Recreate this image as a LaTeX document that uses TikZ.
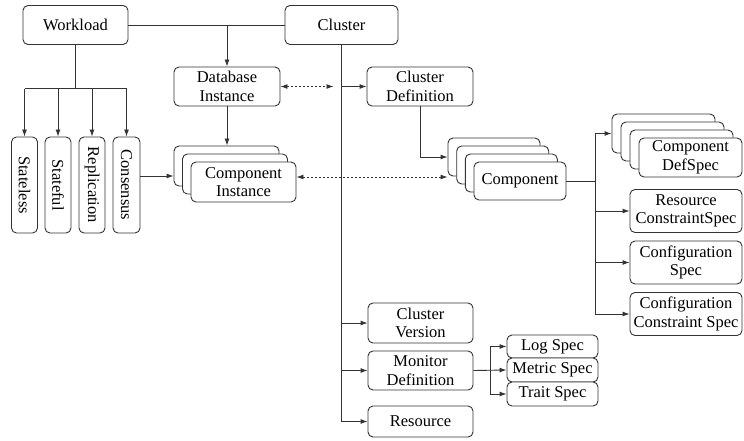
\documentclass[tikz,border=0pt]{standalone}
\usepackage{fontspec}
\setmainfont{Liberation Serif}
\usetikzlibrary{arrows.meta,calc}
\begin{document}
\begin{tikzpicture}[x=1pt,y=-1pt,
  line width=0.9pt,
  box/.style={draw=black!80, fill=white, rounded corners=5pt, inner sep=0pt, align=center,
    font=\fontsize{16.5}{18.5}\selectfont},
  vlab/.style={rotate=-90, inner sep=0pt, font=\fontsize{16.5}{18.5}\selectfont},
  link/.style={draw=black!80},
  arr/.style={draw=black!80, -{Latex[length=7pt,width=5pt]}},
  darr/.style={draw=black!80, dash pattern=on 2pt off 2pt, {Latex[length=7pt,width=5pt]}-{Latex[length=7pt,width=5pt]}}]
\useasboundingbox (0,0) rectangle (744,441);

% top
\node[box, minimum width=105, minimum height=39] (wl) at (75.5,25) {Workload};
\node[box, minimum width=113, minimum height=39] (cl) at (341.5,25) {Cluster};
\node[box, minimum width=106, minimum height=39] (dbi) at (227,86.5) {Database\\Instance};
\node[box, minimum width=106, minimum height=39] (cd) at (420,86.5) {Cluster\\Definition};

% workload types
\node[box, minimum width=26, minimum height=96] (sl) at (24.5,185) {};
\node[box, minimum width=26, minimum height=96] (sf) at (58,185) {};
\node[box, minimum width=26, minimum height=96] (rp) at (92,185) {};
\node[box, minimum width=27, minimum height=96] (cs) at (126.5,185) {};
\node[vlab] at (sl.center) {Stateless};
\node[vlab] at (sf.center) {Stateful};
\node[vlab] at (rp.center) {Replication};
\node[vlab] at (cs.center) {Consensus};

% component instance stack
\node[box, minimum width=105, minimum height=40] (ci1) at (226.5,166) {};
\node[box, minimum width=105, minimum height=40] (ci2) at (235,174) {};
\node[box, minimum width=105, minimum height=40] (ci3) at (243.5,182) {Component\\Instance};

% component stack
\node[box, minimum width=92, minimum height=38] (cp1) at (494,157) {};
\node[box, minimum width=92, minimum height=38] (cp2) at (502.7,165) {};
\node[box, minimum width=92, minimum height=38] (cp3) at (511.3,173) {};
\node[box, minimum width=92, minimum height=38] (cp4) at (520,181) {Component};

% component def spec stack
\node[box, minimum width=103, minimum height=39] (ds1) at (663.5,133.5) {};
\node[box, minimum width=103, minimum height=39] (ds2) at (672.5,141.5) {};
\node[box, minimum width=103, minimum height=39] (ds3) at (681.5,149.5) {};
\node[box, minimum width=103, minimum height=39] (ds4) at (690.5,157.5) {Component\\DefSpec};

\node[box, minimum width=112, minimum height=43] (rc) at (686,211) {Resource\\ConstraintSpec};
\node[box, minimum width=112, minimum height=43] (cfs) at (686,262.5) {Configuration\\Spec};
\node[box, minimum width=112, minimum height=43] (ccs) at (686,314) {Configuration\\Constraint Spec};

% lower cluster items
\node[box, minimum width=105, minimum height=40] (cv) at (420.5,323) {Cluster\\Version};
\node[box, minimum width=105, minimum height=39] (md) at (420.5,370.5) {Monitor\\Definition};
\node[box, minimum width=105, minimum height=31] (res) at (420.5,421.5) {Resource};

\node[box, minimum width=91, minimum height=23] (log) at (552.5,346.5) {Log Spec};
\node[box, minimum width=91, minimum height=24] (met) at (552.5,370) {Metric Spec};
\node[box, minimum width=91, minimum height=24] (trt) at (552.5,394) {Trait Spec};

% connectors: top
\draw[link] (wl.east) -- (cl.west);
\draw[arr] (wl.east -| dbi.north) -- (dbi.north);
\draw[arr] (dbi.south) -- (dbi.south |- ci1.north);

% workload branch
\coordinate (wb) at ($(wl.south)+(0,44)$);
\draw[link] (wl.south) -- (wb);
\draw[link] (sl.north |- wb) -- (cs.north |- wb);
\draw[arr] (sl.north |- wb) -- (sl.north);
\draw[arr] (sf.north |- wb) -- (sf.north);
\draw[arr] (rp.north |- wb) -- (rp.north);
\draw[arr] (cs.north |- wb) -- (cs.north);
\coordinate (csy) at ($(cs.east)+(0,-9)$);
\draw[arr] (csy) -- (csy -| ci1.west);

% cluster trunk
\draw[link] (cl.south) -- (cl.south |- res.west);
\draw[arr] (cl.south |- cd.west) -- (cd.west);
\draw[arr] (cl.south |- cv.west) -- (cv.west);
\draw[arr] (cl.south |- md.west) -- (md.west);
\draw[arr] (cl.south |- res.west) -- (res.west);

% dotted links
\coordinate (dbe) at ($(cl.south |- dbi.east)+(-8,0)$);
\draw[darr] (dbi.east) -- (dbe);
\coordinate (cie) at ($(ci3.east)+(0,-5)$);
\draw[darr] (cie) -- (cie -| cp1.west);

% cluster definition to component
\draw[arr] (cd.south) |- (cp1.west);

% component branch
\coordinate (ct) at ($(cp4.east)+(29,0)$);
\draw[link] (cp4.east) -- (ct);
\draw[link] (ct |- ds1.west) -- (ct |- ccs.west);
\draw[arr] (ct |- ds1.west) -- (ds1.west);
\draw[arr] (ct |- rc.west) -- (rc.west);
\draw[arr] (ct |- cfs.west) -- (cfs.west);
\draw[arr] (ct |- ccs.west) -- (ccs.west);

% monitor branch
\coordinate (mb) at ($(md.east)+(17,0)$);
\draw[arr] (md.east) -- (met.west);
\draw[link] (mb |- log.west) -- (mb |- trt.west);
\draw[arr] (mb |- log.west) -- (log.west);
\draw[arr] (mb |- trt.west) -- (trt.west);
\end{tikzpicture}
\end{document}
